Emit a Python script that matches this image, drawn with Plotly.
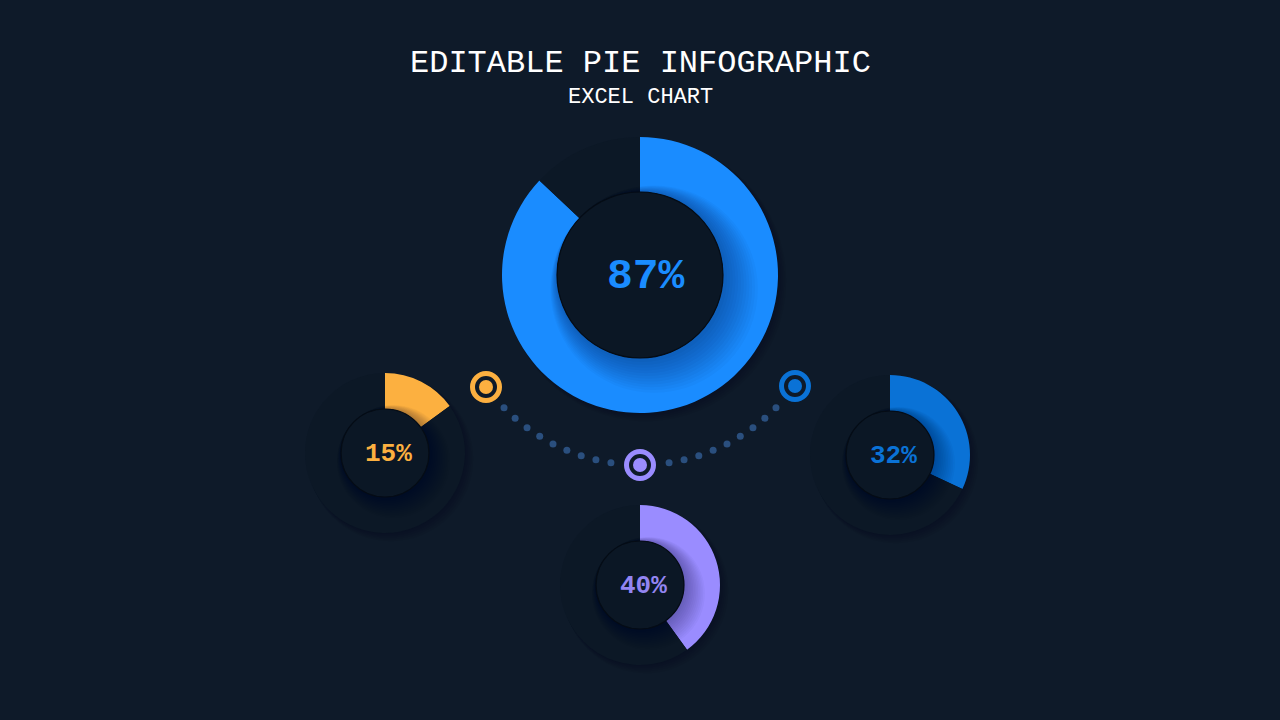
import numpy as np
import plotly.graph_objects as go

W, H = 1280, 720
BG = "#0e1a29"

# ---- data ----
labels = ["87%", "15%", "40%", "32%"]
values = [87, 15, 40, 32]
colors = ["#1a8cff", "#fcb040", "#9a8cff", "#0a72d6"]
text_colors = ["#1a8cff", "#fcb040", "#9385f2", "#0a72d6"]
centers = [(640, 275), (385, 453), (640, 585), (890, 455)]
outer_r = [138, 80, 80, 80]
inner_r = [83, 44, 44, 44]
font_sizes = [43, 26, 26, 26]
marker_pts = [(486, 387), (640, 465), (795, 386)]
marker_colors = ["#fcb040", "#9a8cff", "#0a72d6"]

title = "EDITABLE PIE INFOGRAPHIC"
subtitle = "EXCEL CHART"


def dom(cx, cy, r):
    return dict(x=[(cx - r) / W, (cx + r) / W],
                y=[1 - (cy + r) / H, 1 - (cy - r) / H])


fig = go.Figure()

# dotted arc (decorative) centred on the big donut
arc_c = centers[0]
arc_r = 190
ang = np.deg2rad(np.concatenate([np.linspace(-45.7, -8.8, 9), np.linspace(8.8, 45.7, 9)]))
fig.add_trace(go.Scatter(x=arc_c[0] + arc_r * np.sin(ang), y=arc_c[1] + arc_r * np.cos(ang),
                         mode="markers", marker=dict(size=7, color="#2a4f7e"),
                         hoverinfo="skip", showlegend=False))
# ring markers
fig.add_trace(go.Scatter(x=[p[0] for p in marker_pts], y=[p[1] for p in marker_pts],
                         mode="markers",
                         marker=dict(size=27, symbol="circle-open", color=marker_colors,
                                     line=dict(width=5, color=marker_colors)),
                         hoverinfo="skip", showlegend=False))
fig.add_trace(go.Scatter(x=[p[0] for p in marker_pts], y=[p[1] for p in marker_pts],
                         mode="markers", marker=dict(size=14, color=marker_colors),
                         hoverinfo="skip", showlegend=False))

for i, (lab, v, c, tc, (cx, cy), ro, ri, fs) in enumerate(
        zip(labels, values, colors, text_colors, centers, outer_r, inner_r, font_sizes)):
    # outer soft shadow of the whole disc
    for k in range(5):
        off = 1 + 1.2 * k
        fig.add_trace(go.Pie(values=[1], marker=dict(colors=["rgba(3,9,16,0.05)"]),
                             domain=dom(cx + off, cy + off, ro + 0.6 * k), textinfo="none",
                             hoverinfo="skip", showlegend=False, sort=False))
    # donut ring
    fig.add_trace(go.Pie(values=[v, 100 - v], marker=dict(colors=[c, "#0c1826"], line=dict(width=0)),
                         hole=ri / ro, direction="clockwise", sort=False, rotation=0,
                         domain=dom(cx, cy, ro), textinfo="none", hoverinfo="skip",
                         showlegend=False))
    # soft shadow of inner disc on ring (towards bottom-right)
    sc = 1.0 if i == 0 else 0.6
    n = 12
    for k in range(n):
        rr = ri + (2 + 1.7 * k) * sc
        off = (2 + 1.1 * k) * sc
        fig.add_trace(go.Pie(values=[1], marker=dict(colors=["rgba(2,10,30,0.028)"]),
                             domain=dom(cx + off, cy + off, rr), textinfo="none",
                             hoverinfo="skip", showlegend=False, sort=False))
    # inner disc
    fig.add_trace(go.Pie(values=[1], marker=dict(colors=["#0b1725"], line=dict(width=1.2, color="#050c15")),
                         domain=dom(cx, cy, ri), textinfo="none", hoverinfo="skip",
                         showlegend=False, sort=False))
    fig.add_annotation(x=cx + (6 if i == 0 else 3), y=cy + 1, text=f"<b>{lab}</b>", showarrow=False,
                       font=dict(family="Liberation Mono", size=fs, color=tc),
                       xref="x", yref="y")

fig.add_annotation(x=640, y=63, text=title, showarrow=False, xref="x", yref="y",
                   font=dict(family="Liberation Mono", size=32, color="#ffffff"))
fig.add_annotation(x=640, y=97, text=subtitle, showarrow=False, xref="x", yref="y",
                   font=dict(family="Liberation Mono", size=22, color="#ffffff"))

fig.update_layout(width=W, height=H, margin=dict(l=0, r=0, t=0, b=0),
                  paper_bgcolor=BG, plot_bgcolor=BG, showlegend=False,
                  xaxis=dict(range=[0, W], visible=False, fixedrange=True),
                  yaxis=dict(range=[H, 0], visible=False, fixedrange=True))

fig.write_html("out.html", config={"displayModeBar": False},
               post_script="document.body.style.margin='0';document.body.style.background='#0e1a29';")
